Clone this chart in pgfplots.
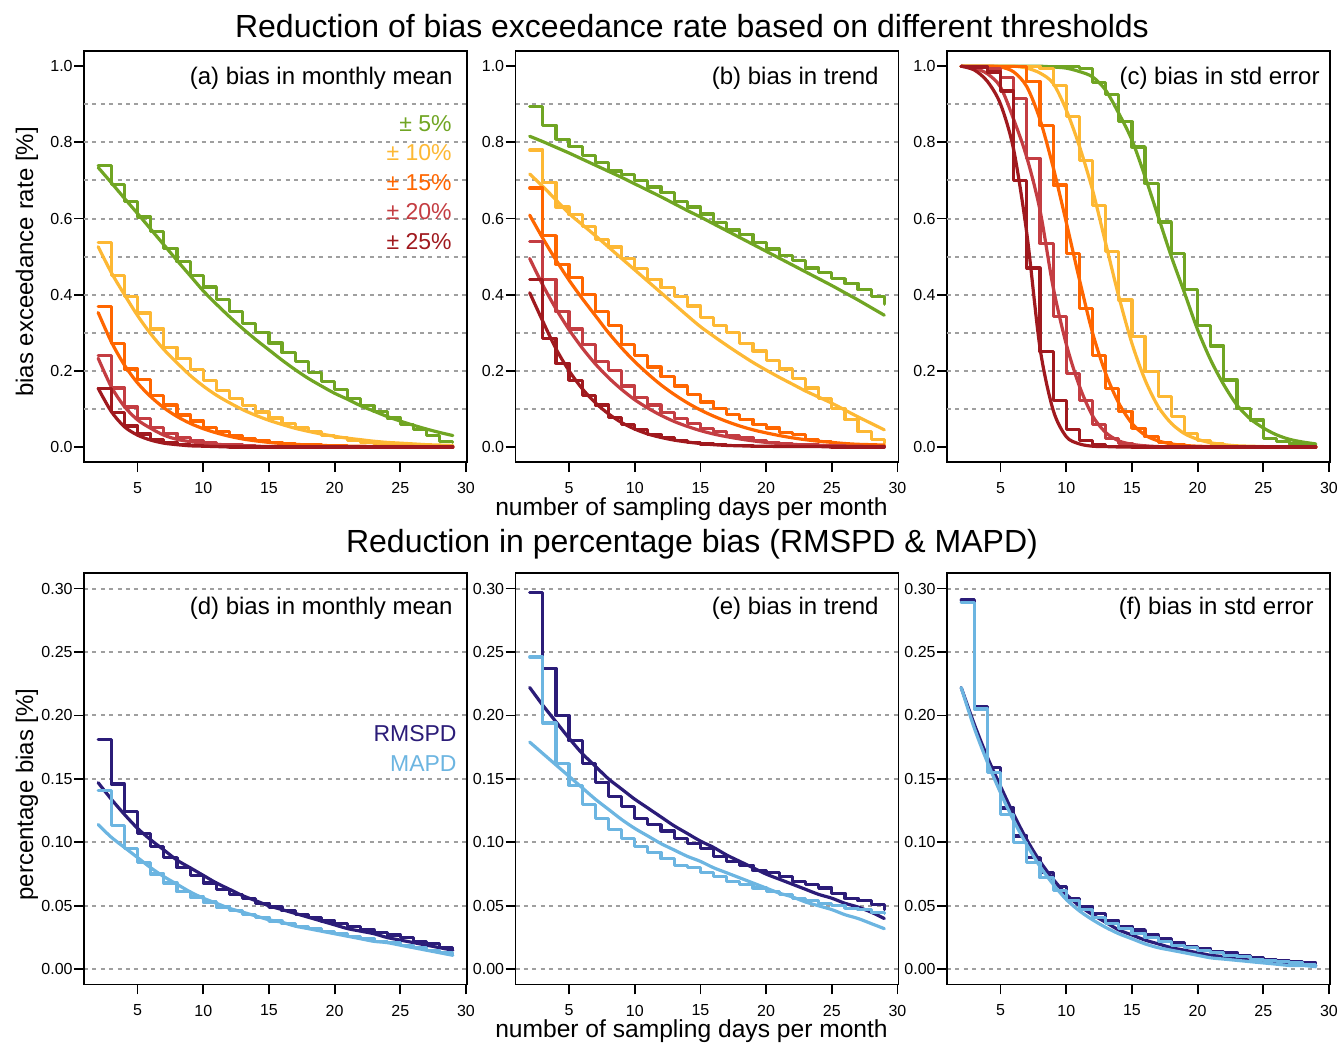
\documentclass[border=0pt]{standalone}
\usepackage{pgfplots}
\usepackage{pgfplotstable}
\pgfplotsset{compat=1.18}
\usepackage{fontspec}
\setmainfont{Liberation Sans}
\setsansfont{Liberation Sans}

\definecolor{cg}{HTML}{70A523}
\definecolor{cy}{HTML}{FDB834}
\definecolor{co}{HTML}{FF6600}
\definecolor{cp}{HTML}{C43D42}
\definecolor{cr}{HTML}{A0191E}
\definecolor{cn}{HTML}{2B1C78}
\definecolor{cl}{HTML}{6CB5E1}

\pgfplotstableread{
x s5 s10 s15 s20 s25 f5 f10 f15 f20 f25
2  .740 .536 .368 .241 .154 .734 .526 .353 .233 .154
3  .690 .450 .272 .155 .090 .694 .458 .276 .158 .093
4  .645 .395 .205 .105 .055 .653 .400 .215 .106 .053
5  .604 .352 .178 .075 .034 .613 .345 .168 .071 .031
6  .565 .310 .135 .052 .020 .572 .297 .132 .049 .018
7  .522 .262 .110 .036 .012 .531 .256 .103 .031 .010
8  .487 .233 .084 .024 .007 .490 .221 .080 .020 .006
9  .450 .203 .068 .016 .004 .450 .188 .062 .014 .003
10 .420 .175 .052 .011 .002 .410 .160 .048 .010 .002
11 .388 .148 .040 .007 .001 .375 .136 .037 .007 .001
12 .356 .128 .030 .005 .000 .342 .116 .028 .005 .000
13 .325 .108 .022 .003 0 .311 .098 .021 .003 0
14 .300 .092 .017 .002 0 .282 .083 .016 .002 0
15 .273 .076 .012 .001 0 .255 .070 .012 .001 0
16 .248 .062 .009 .001 0 .228 .059 .009 .001 0
17 .224 .052 .007 0 0 .203 .049 .007 0 0
18 .196 .040 .005 0 0 .180 .041 .005 0 0
19 .172 .030 .004 0 0 .160 .034 .004 0 0
20 .150 .024 .003 0 0 .141 .028 .003 0 0
21 .128 .018 .002 0 0 .125 .023 .002 0 0
22 .108 .013 .002 0 0 .108 .019 .002 0 0
23 .094 .010 .001 0 0 .094 .015 .001 0 0
24 .076 .007 .001 0 0 .080 .012 .001 0 0
25 .058 .005 .001 0 0 .068 .010 .001 0 0
26 .046 .004 0 0 0 .057 .008 .001 0 0
27 .030 .003 0 0 0 .047 .006 0 0 0
28 .014 .002 0 0 0 .038 .005 0 0 0
29 .012 .002 0 0 0 .030 .004 0 0 0
}\tabA

\pgfplotstableread{
x s5 s10 s15 s20 s25 f5 f10 f15 f20 f25
2 .895 .780 .680 .539 .440 .816 .717 .609 .495 .405
3 .845 .695 .555 .440 .285 .802 .684 .548 .425 .330
4 .808 .630 .480 .355 .220 .787 .649 .491 .363 .258
5 .790 .610 .445 .310 .175 .772 .613 .438 .308 .200
6 .765 .580 .400 .270 .135 .756 .584 .390 .260 .153
7 .748 .545 .355 .225 .110 .740 .555 .345 .218 .116
8 .725 .525 .320 .200 .078 .724 .525 .300 .182 .087
9 .716 .495 .270 .160 .060 .708 .495 .260 .151 .064
10 .700 .468 .240 .130 .045 .691 .465 .224 .124 .047
11 .683 .440 .210 .110 .032 .674 .435 .192 .102 .034
12 .668 .418 .185 .090 .024 .657 .405 .163 .083 .025
13 .645 .395 .160 .075 .016 .639 .375 .138 .067 .018
14 .630 .370 .138 .062 .012 .621 .345 .116 .054 .013
15 .612 .340 .118 .048 .008 .604 .316 .097 .043 .009
16 .590 .320 .100 .040 .006 .586 .291 .081 .034 .006
17 .570 .300 .085 .030 .004 .568 .267 .067 .027 .004
18 .558 .272 .072 .024 .003 .550 .244 .055 .021 .003
19 .538 .252 .060 .016 .002 .532 .222 .045 .016 .002
20 .520 .228 .050 .012 .001 .514 .202 .037 .012 .002
21 .503 .205 .038 .008 .001 .496 .183 .030 .009 .001
22 .490 .180 .032 .006 .001 .478 .165 .024 .007 .001
23 .470 .155 .020 .005 .001 .460 .147 .019 .005 .001
24 .458 .128 .015 .004 .001 .442 .131 .015 .004 .001
25 .442 .100 .010 .003 0 .424 .115 .012 .003 0
26 .430 .072 .006 .002 0 .405 .097 .009 .002 0
27 .413 .040 .004 .002 0 .386 .079 .007 .002 0
28 .395 .020 .003 .002 0 .366 .062 .006 .001 0
29 .375 .010 .002 .002 0 .346 .045 .005 .001 0
}\tabB

\pgfplotstableread{
x s5 s10 s15 s20 s25 f5 f10 f15 f20 f25
2 1 1 1 1 1 1 1 1 1 1
3 1 1 1 1 .998 1 1 1 .995 .99
4 1 1 1 .995 .985 1 1 1 .98 .96
5 1 1 1 .97 .935 1 1 .998 .945 .90
6 1 1 1 .915 .700 1 1 .985 .86 .78
7 1 1 .96 .758 .470 1 .995 .946 .76 .56
8 1 .995 .845 .535 .250 1 .982 .86 .622 .26
9 1 .95 .688 .342 .123 .998 .955 .735 .42 .097
10 1 .867 .508 .193 .045 .995 .885 .59 .27 .027
11 .995 .753 .364 .123 .018 .986 .79 .44 .16 .008
12 .958 .635 .241 .058 .006 .972 .675 .30 .082 .002
13 .925 .513 .154 .022 .002 .937 .535 .193 .038 .001
14 .854 .386 .093 .010 .001 .876 .395 .115 .016 0
15 .788 .290 .049 .004 0 .806 .272 .062 .007 0
16 .692 .198 .027 .002 0 .71 .176 .031 .003 0
17 .591 .132 .012 .001 0 .605 .106 .016 .001 0
18 .508 .080 .005 0 0 .50 .062 .008 0 0
19 .414 .036 .002 0 0 .405 .035 .004 0 0
20 .318 .018 .001 0 0 .308 .02 .002 0 0
21 .265 .009 0 0 0 .228 .011 .001 0 0
22 .176 .004 0 0 0 .163 .006 0 0 0
23 .101 .002 0 0 0 .110 .003 0 0 0
24 .071 .001 0 0 0 .074 .002 0 0 0
25 .023 0 0 0 0 .050 .001 0 0 0
26 .014 0 0 0 0 .032 0 0 0 0
27 .008 0 0 0 0 .020 0 0 0 0
28 .004 0 0 0 0 .013 0 0 0 0
29 .003 0 0 0 0 .008 0 0 0 0
}\tabC

\pgfplotstableread{
x sR fR sM fM
2 .181 .147 .141 .114
3 .146 .134 .113 .104
4 .124 .122 .095 .096
5 .107 .111 .084 .088
6 .097 .102 .075 .080
7 .088 .094 .068 .073
8 .080 .086 .061 .067
9 .074 .080 .057 .061
10 .068 .074 .053 .056
11 .063 .068 .049 .052
12 .059 .063 .046 .048
13 .056 .058 .043 .045
14 .052 .054 .041 .042
15 .049 .050 .038 .039
16 .046 .047 .036 .037
17 .043 .044 .034 .034
18 .041 .041 .032 .032
19 .038 .038 .030 .030
20 .036 .035 .028 .028
21 .034 .032 .026 .026
22 .031 .030 .024 .024
23 .029 .028 .022 .022
24 .027 .025 .021 .021
25 .025 .023 .019 .019
26 .022 .021 .017 .017
27 .020 .019 .015 .015
28 .017 .017 .013 .013
29 .015 .015 .011 .011
}\tabD

\pgfplotstableread{
x sR fR sM fM
2 .297 .222 .246 .179
3 .237 .208 .194 .170
4 .200 .195 .162 .161
5 .180 .182 .145 .152
6 .162 .170 .130 .143
7 .147 .160 .119 .134
8 .136 .150 .110 .126
9 .128 .142 .103 .118
10 .119 .134 .097 .111
11 .114 .127 .092 .105
12 .109 .120 .087 .099
13 .103 .113 .082 .094
14 .099 .107 .080 .089
15 .095 .101 .076 .085
16 .089 .096 .073 .080
17 .085 .090 .069 .076
18 .082 .085 .067 .072
19 .078 .080 .064 .068
20 .076 .075 .061 .064
21 .073 .071 .059 .060
22 .069 .067 .056 .057
23 .067 .063 .054 .053
24 .064 .059 .052 .050
25 .060 .056 .050 .047
26 .056 .052 .048 .043
27 .054 .049 .047 .040
28 .051 .045 .045 .036
29 .047 .040 .044 .032
}\tabE

\pgfplotstableread{
x sR fR sM fM
2 .291 .222 .289 .222
3 .207 .193 .205 .190
4 .159 .167 .155 .163
5 .127 .144 .122 .139
6 .105 .122 .100 .117
7 .088 .102 .084 .098
8 .076 .085 .072 .081
9 .065 .071 .062 .067
10 .056 .059 .054 .055
11 .049 .050 .047 .046
12 .044 .043 .041 .039
13 .038 .037 .036 .033
14 .034 .031 .032 .028
15 .031 .027 .028 .024
16 .027 .023 .025 .020
17 .024 .020 .022 .017
18 .021 .017 .019 .015
19 .018 .015 .017 .013
20 .016 .013 .015 .011
21 .014 .011 .013 .009
22 .013 .010 .011 .008
23 .011 .009 .010 .007
24 .009 .007 .008 .006
25 .008 .006 .007 .005
26 .007 .005 .006 .004
27 .006 .004 .005 .003
28 .005 .0035 .004 .003
29 .003 .003 .003 .002
}\tabF

\tikzset{gridst/.style={draw=gray!75, line width=1pt, dash pattern=on 2pt off 2.2pt}}

\pgfplotsset{
  panel/.style={
    scale only axis, anchor=south west,
    width=191.5pt, height=205.6pt,
    xmin=0.92, xmax=30.08, xtick={5,10,15,20,25,30},
    axis line style={line width=0.9pt},
    tick align=outside, major tick length=5pt,
    tick style={black, line width=0.9pt},
    xtick pos=left, ytick pos=left,
    ticklabel style={font=\fontsize{8}{9}\selectfont},
    xticklabel style={inner ysep=0.5pt, yshift=-4.5pt},
    yticklabel style={inner xsep=0.5pt},
    /pgf/number format/assume math mode=true,
    every axis plot/.append style={line width=1.6pt, line join=round, line cap=round, no markers},
  },
  toppanel/.style={panel,
    ymin=-0.04, ymax=1.04, ytick={0,0.2,0.4,0.6,0.8,1},
    yticklabel style={/pgf/number format/.cd, fixed, fixed zerofill, precision=1},
    extra y ticks={0.1,0.2,0.3,0.4,0.5,0.6,0.7,0.8,0.9}, extra y tick labels={},
    extra y tick style={grid=major, major tick length=0pt, major grid style={gridst}},
  },
  botpanel/.style={panel,
    ymin=-0.012, ymax=0.312, ytick={0,0.05,0.1,0.15,0.2,0.25,0.3},
    ymajorgrids, major grid style={gridst},
    yticklabel style={/pgf/number format/.cd, fixed, fixed zerofill, precision=2},
  },
}

\newcommand{\fivecurves}[1]{%
  \addplot[const plot, cg] table[x=x,y=s5]{#1};
  \addplot[smooth, cg] table[x=x,y=f5]{#1};
  \addplot[const plot, cy] table[x=x,y=s10]{#1};
  \addplot[smooth, cy] table[x=x,y=f10]{#1};
  \addplot[const plot, co] table[x=x,y=s15]{#1};
  \addplot[smooth, co] table[x=x,y=f15]{#1};
  \addplot[const plot, cp] table[x=x,y=s20]{#1};
  \addplot[smooth, cp] table[x=x,y=f20]{#1};
  \addplot[const plot, cr] table[x=x,y=s25]{#1};
  \addplot[smooth, cr] table[x=x,y=f25]{#1};
}
\newcommand{\twocurves}[1]{%
  \addplot[const plot, cn] table[x=x,y=sR]{#1};
  \addplot[smooth, cn] table[x=x,y=fR]{#1};
  \addplot[const plot, cl] table[x=x,y=sM]{#1};
  \addplot[smooth, cl] table[x=x,y=fM]{#1};
}

\begin{document}
\begin{tikzpicture}
\useasboundingbox (0,0) rectangle (670pt,522pt);

\begin{axis}[toppanel, at={(42pt,290.9pt)}]
\fivecurves{\tabA}
\end{axis}
\begin{axis}[toppanel, at={(257.75pt,290.9pt)}]
\fivecurves{\tabB}
\end{axis}
\begin{axis}[toppanel, at={(473.5pt,290.9pt)}]
\fivecurves{\tabC}
\end{axis}

\begin{axis}[botpanel, at={(42pt,29.75pt)}]
\twocurves{\tabD}
\end{axis}
\begin{axis}[botpanel, at={(257.75pt,29.75pt)}]
\twocurves{\tabE}
\end{axis}
\begin{axis}[botpanel, at={(473.5pt,29.75pt)}]
\twocurves{\tabF}
\end{axis}

% titles and labels
\begin{scope}[every node/.style={inner sep=0pt}]
\node[anchor=base, font=\fontsize{16}{19}\selectfont] at (346pt,503pt) {Reduction of bias exceedance rate based on different thresholds};
\node[anchor=base, font=\fontsize{16}{19}\selectfont] at (346pt,245.6pt) {Reduction in percentage bias (RMSPD \& MAPD)};
\node[anchor=base, font=\fontsize{12.3}{14}\selectfont] at (345.75pt,264pt) {number of sampling days per month};
\node[anchor=base, font=\fontsize{12.3}{14}\selectfont] at (345.75pt,3pt) {number of sampling days per month};
\node[anchor=base, rotate=90, font=\fontsize{12}{14}\selectfont] at (16.5pt,391pt) {bias exceedance rate [\%]};
\node[anchor=base, rotate=90, font=\fontsize{12}{14}\selectfont] at (16.5pt,124.75pt) {percentage bias [\%]};

% panel labels
\node[anchor=base east, font=\fontsize{12}{14}\selectfont] at (226.5pt,479.5pt) {(a) bias in monthly mean};
\node[anchor=base east, font=\fontsize{12}{14}\selectfont] at (439.5pt,479.5pt) {(b) bias in trend};
\node[anchor=base east, font=\fontsize{12}{14}\selectfont] at (660pt,479.5pt) {(c) bias in std error};
\node[anchor=base east, font=\fontsize{12}{14}\selectfont] at (226.5pt,214.5pt) {(d) bias in monthly mean};
\node[anchor=base east, font=\fontsize{12}{14}\selectfont] at (439.5pt,214.5pt) {(e) bias in trend};
\node[anchor=base east, font=\fontsize{12}{14}\selectfont] at (657pt,214.5pt) {(f) bias in std error};
\end{scope}

% legends
\begin{scope}[every node/.style={anchor=base east, inner sep=0pt, font=\fontsize{11.5}{13}\selectfont}]
\node[text=cg] at (226pt,456.25pt) {± 5\%};
\node[text=cy] at (226pt,441.5pt) {± 10\%};
\node[text=co] at (226pt,426.75pt) {± 15\%};
\node[text=cp] at (226pt,412pt) {± 20\%};
\node[text=cr] at (226pt,397.25pt) {± 25\%};
\node[text=cn] at (228.5pt,151.25pt) {RMSPD};
\node[text=cl] at (228.5pt,136.25pt) {MAPD};
\end{scope}
\end{tikzpicture}
\end{document}
